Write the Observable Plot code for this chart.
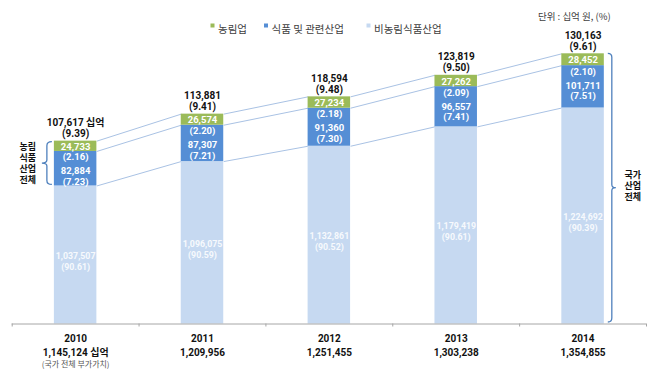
<!DOCTYPE html>
<html>
<head>
<meta charset="utf-8">
<script src="https://cdn.jsdelivr.net/npm/d3@7"></script>
<script src="https://cdn.jsdelivr.net/npm/@observablehq/plot@0.6"></script>
<style>
  html, body { margin: 0; padding: 0; background: #fff; }
  #chart { width: 655px; height: 385px; }
</style>
</head>
<body>
<div id="chart"></div>
<script>
// ---- data ----
const years = [2010, 2011, 2012, 2013, 2014];
const agri = [24733, 26574, 27234, 27262, 28452];            // 농림업
const agriPct = ["2.16", "2.20", "2.18", "2.09", "2.10"];
const food = [82884, 87307, 91360, 96557, 101711];           // 식품 및 관련산업
const foodPct = ["7.23", "7.21", "7.30", "7.41", "7.51"];
const nonAgri = [1037507, 1096075, 1132861, 1179419, 1224692]; // 비농림식품산업
const nonAgriPct = ["90.61", "90.59", "90.52", "90.61", "90.39"];
const agriFoodTotal = [107617, 113881, 118594, 123819, 130163];
const agriFoodPct = ["9.39", "9.41", "9.48", "9.50", "9.61"];
const nationalTotal = [1145124, 1209956, 1251455, 1303238, 1354855];
const seriesNames = ["농림업", "식품 및 관련산업", "비농림식품산업"];

// ---- style ----
const cGreen = "#9BBB59", cBlue = "#558ED5", cLight = "#C6D9F1";
const cLink = "#A9C2E4", cBracket = "#4F81BD";
const font = "'Noto Sans CJK KR', 'Noto Sans', sans-serif";
const numFont = "Roboto, 'Noto Sans CJK KR', sans-serif";
const yMin = 706000, yMax = 1400000;
const half = 0.1675;
const fmt = d3.format(",");
const fs = 9.5;

const data = years.map((year, i) => ({
  year, i,
  agri: agri[i], food: food[i], nonAgri: nonAgri[i],
  lowTop: nonAgri[i], midTop: nonAgri[i] + food[i], top: nonAgri[i] + food[i] + agri[i],
  agriPct: agriPct[i], foodPct: foodPct[i], nonAgriPct: nonAgriPct[i],
  aft: agriFoodTotal[i], aftPct: agriFoodPct[i], nat: nationalTotal[i]
}));
const pairs = d3.pairs(data);

const txt = (opts) => ({fontFamily: numFont, fontWeight: "bold", fontSize: fs, ...opts});

const plot = Plot.plot({
  width: 655, height: 385,
  marginLeft: 11.7, marginRight: 9, marginTop: 34.5, marginBottom: 61.5,
  x: {domain: [2009.5, 2014.5], label: null},
  y: {domain: [yMin, yMax], clamp: true, axis: null},
  style: {fontFamily: font, background: "white", overflow: "visible"},
  marks: [
    // connector lines
    Plot.link(pairs, {x1: ([a]) => a.year + half, x2: ([, b]) => b.year - half, y1: ([a]) => a.top, y2: ([, b]) => b.top, stroke: cLink, strokeWidth: 1}),
    Plot.link(pairs, {x1: ([a]) => a.year + half, x2: ([, b]) => b.year - half, y1: ([a]) => a.midTop, y2: ([, b]) => b.midTop, stroke: cLink, strokeWidth: 1}),
    Plot.link(pairs, {x1: ([a]) => a.year + half, x2: ([, b]) => b.year - half, y1: ([a]) => a.lowTop, y2: ([, b]) => b.lowTop, stroke: cLink, strokeWidth: 1}),
    // stacked bars
    Plot.rectY(data, {x1: d => d.year - half, x2: d => d.year + half, y1: 0, y2: "lowTop", fill: cLight}),
    Plot.rectY(data, {x1: d => d.year - half, x2: d => d.year + half, y1: "lowTop", y2: "midTop", fill: cBlue}),
    Plot.rectY(data, {x1: d => d.year - half, x2: d => d.year + half, y1: "midTop", y2: "top", fill: cGreen}),
    // axis
    Plot.ruleY([yMin], {x1: 2009.5, x2: 2014.5, stroke: "#a6a6a6"}),
    Plot.axisX(d3.range(2009.5, 2015, 1), {tickSize: 3, tickFormat: () => "", stroke: "#a6a6a6", label: null}),
    // labels above bars
    Plot.text(data, txt({x: "year", y: "top", text: d => d.i === 0 ? fmt(d.aft) + " 십억" : fmt(d.aft), dy: -18, fontSize: 10, fill: "#111"})),
    Plot.text(data, txt({x: "year", y: "top", text: d => `(${d.aftPct})`, dy: -7, fontSize: 10, fill: "#111"})),
    // green value
    Plot.text(data, txt({x: "year", y: d => d.midTop + d.agri / 2, text: d => fmt(d.agri), dy: 0.5, fill: "white"})),
    // blue segment labels
    Plot.text(data, txt({x: "year", y: "midTop", text: d => `(${d.agriPct})`, dy: 6, fill: "white"})),
    Plot.text(data, txt({x: "year", y: "midTop", text: d => fmt(d.food), dy: 20, fill: "white"})),
    Plot.text(data, txt({x: "year", y: "midTop", text: d => `(${d.foodPct})`, dy: 30.5, fill: "white"})),
    // light segment labels
    Plot.text(data, txt({x: "year", y: d => (yMin + d.nonAgri) / 2, text: d => fmt(d.nonAgri), dy: 1, fontSize: 8.8, fill: "#f7f9fd"})),
    Plot.text(data, txt({x: "year", y: d => (yMin + d.nonAgri) / 2, text: d => `(${d.nonAgriPct})`, dy: 12, fontSize: 8.8, fill: "#f7f9fd"})),
    // bottom labels
    Plot.text(data, txt({x: "year", frameAnchor: "bottom", text: d => String(d.year), dy: 18, fontSize: 10, fill: "#111"})),
    Plot.text(data, txt({x: "year", frameAnchor: "bottom", text: d => d.i === 0 ? fmt(d.nat) + " 십억" : fmt(d.nat), dy: 31.5, fontSize: 10, fill: "#111"})),
    Plot.text(data.slice(0, 1), txt({x: "year", frameAnchor: "bottom", text: () => "(국가 전체 부가가치)", dy: 42.5, fontFamily: font, fontWeight: "normal", fontSize: 8, fill: "#555"}))
  ]
});

document.getElementById("chart").appendChild(plot);

// ---- decorations drawn from the plot's scales ----
const xs = plot.scale("x"), ys = plot.scale("y");
const svg = d3.select(plot);
const first = data[0], last = data[data.length - 1];

// left bracket (농림식품산업 전체)
{
  const bx = xs.apply(first.year - half) - 7;
  const top = ys.apply(first.top) + 1, bot = ys.apply(first.lowTop) - 1, mid = (top + bot) / 2;
  svg.append("path")
    .attr("d", `M${bx + 5},${top} Q${bx},${top} ${bx},${top + 4} L${bx},${mid - 3} Q${bx},${mid} ${bx - 5},${mid} Q${bx},${mid} ${bx},${mid + 3} L${bx},${bot - 4} Q${bx},${bot} ${bx + 5},${bot}`)
    .attr("fill", "none").attr("stroke", cBracket).attr("stroke-width", 1.3);
  ["농림", "식품", "산업", "전체"].forEach((t, k) => {
    svg.append("text").attr("x", bx - 19).attr("y", mid + (k - 1.5) * 11).attr("dy", "0.35em")
      .attr("text-anchor", "middle").attr("font-family", font).attr("font-weight", "bold")
      .attr("font-size", 9).attr("fill", "#111").text(t);
  });
}
// right bracket (국가 산업 전체)
{
  const bx = xs.apply(last.year + half) + 8;
  const top = ys.apply(last.top), bot = ys.apply(yMin) - 1.5, mid = (top + bot) / 2;
  svg.append("path")
    .attr("d", `M${bx - 4},${top} Q${bx},${top} ${bx},${top + 4} L${bx},${mid - 3} Q${bx},${mid} ${bx + 4},${mid} Q${bx},${mid} ${bx},${mid + 3} L${bx},${bot - 4} Q${bx},${bot} ${bx - 4},${bot}`)
    .attr("fill", "none").attr("stroke", cBracket).attr("stroke-width", 1.3);
  ["국가", "산업", "전체"].forEach((t, k) => {
    svg.append("text").attr("x", bx + 21).attr("y", mid - 1.5 + (k - 1) * 11).attr("dy", "0.35em")
      .attr("text-anchor", "middle").attr("font-family", font).attr("font-weight", "bold")
      .attr("font-size", 9).attr("fill", "#111").text(t);
  });
}
// legend
{
  const colors = [cGreen, cBlue, cLight];
  const starts = [210.5, 264, 366.5];
  seriesNames.forEach((name, k) => {
    svg.append("rect").attr("x", starts[k]).attr("y", 23.5).attr("width", 4).attr("height", 4).attr("fill", colors[k]);
    svg.append("text").attr("x", starts[k] + 7.5).attr("y", 29).attr("dy", "0.35em")
      .attr("text-anchor", "start")
      .attr("font-family", font).attr("font-size", 10.5).attr("fill", "#404040").text(name);
  });
  svg.append("text").attr("x", 538).attr("y", 17).attr("dy", "0.35em")
    .attr("text-anchor", "start")
    .attr("font-family", font).attr("font-size", 9.5).attr("fill", "#404040").text("단위 : 십억 원, (%)");
}
</script>
</body>
</html>
